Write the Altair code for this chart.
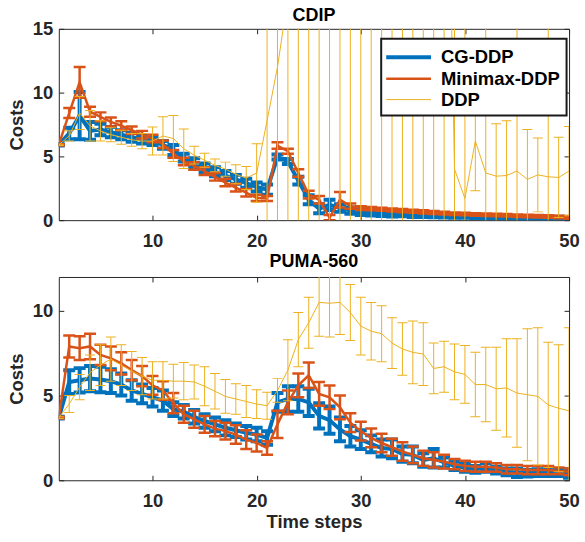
import altair as alt
import pandas as pd

STEPS = list(range(1, 51))
SERIES = ["CG-DDP", "Minimax-DDP", "DDP"]
COLORS = ["#0072BD", "#D95319", "#EDB120"]
LINE_W = [4, 2.5, 1]
CAP_W = [12, 12, 10]
X_TICKS = [10, 20, 30, 40, 50]
CDIP_Y_TICKS = [0, 5, 10, 15]
PUMA_Y_TICKS = [0, 5, 10]

# ---------------- CDIP ----------------
cdip_cg_mean = [5.9, 6.8, 8.2, 7.0, 7.1, 6.9, 6.7, 6.5, 6.3, 6.2,
                5.9, 5.5, 4.9, 4.5, 4.1, 3.8, 3.5, 3.2, 2.9, 2.6,
                2.4, 4.95, 4.6, 3.1, 1.6, 0.9, 1.2, 0.95, 0.75, 0.6,
                0.55, 0.5, 0.45, 0.45, 0.4, 0.38, 0.35, 0.33, 0.3, 0.3,
                0.28, 0.26, 0.25, 0.24, 0.22, 0.2, 0.2, 0.18, 0.16, 0.15]
cdip_cg_err = [0.05, 0.45, 1.85, 0.7, 0.45, 0.4, 0.35, 0.35, 0.3, 0.3,
               0.3, 0.4, 0.3, 0.35, 0.35, 0.35, 0.35, 0.35, 0.35, 0.35,
               0.4, 0.2, 0.2, 0.3, 0.35, 0.35, 0.4, 0.3, 0.25, 0.2,
               0.18, 0.17, 0.16, 0.15, 0.15, 0.14, 0.13, 0.12, 0.12, 0.12,
               0.11, 0.11, 0.1, 0.1, 0.1, 0.1, 0.1, 0.1, 0.1, 0.1]
cdip_mm_mean = [5.9, 8.4, 10.8, 8.5, 8.1, 7.7, 7.4, 7.05, 6.7, 6.4,
                5.95, 5.2, 4.6, 4.25, 3.85, 3.4, 2.95, 2.55, 2.15, 1.75,
                1.7, 5.85, 5.4, 3.7, 2.0, 1.6, 0.2, 1.6, 1.1, 0.95,
                0.9, 0.85, 0.8, 0.75, 0.7, 0.65, 0.6, 0.55, 0.5, 0.48,
                0.45, 0.42, 0.4, 0.38, 0.35, 0.33, 0.3, 0.28, 0.25, 0.22]
cdip_mm_err = [0.05, 0.4, 1.2, 0.4, 0.35, 0.35, 0.35, 0.3, 0.3, 0.3,
               0.3, 0.3, 0.3, 0.3, 0.3, 0.3, 0.3, 0.3, 0.3, 0.25,
               0.2, 0.25, 0.2, 0.3, 0.3, 0.3, 0.2, 0.6, 0.2, 0.15,
               0.13, 0.12, 0.12, 0.12, 0.12, 0.12, 0.11, 0.11, 0.1, 0.1,
               0.1, 0.1, 0.1, 0.1, 0.1, 0.1, 0.1, 0.1, 0.1, 0.1]
cdip_ddp_mean = [5.9, 6.6, 8.4, 7.4, 7.0, 6.7, 6.5, 6.3, 6.2, 6.2,
                 6.6, 6.4, 5.6, 5.1, 4.7, 4.3, 4.0, 3.6, 3.3, 3.7,
                 7.8, 12.0, 17.5, 28, 34, 40, 37, 42, 45, 39,
                 48, 44, 47, 43, 46, 50, 47, 45, 4.0, 1.7,
                 6.2, 3.7, 3.45, 3.5, 3.85, 3.2, 3.55, 3.4, 3.35, 3.85]
cdip_ddp_err = [0.05, 0.4, 1.3, 1.2, 0.8, 0.55, 0.55, 0.5, 0.6, 1.1,
                1.5, 1.8, 1.55, 0.7, 0.55, 0.5, 0.55, 0.75, 0.9, 2.3,
                20, 20, 40, 60, 60, 60, 60, 60, 60, 60,
                60, 60, 60, 60, 60, 60, 60, 60, 30, 30,
                3.9, 15, 4.1, 4.3, 15, 3.9, 2.9, 15, 3.15, 3.5]

# ---------------- PUMA-560 ----------------
puma_cg_mean = [3.7, 5.8, 5.9, 6.0, 5.95, 5.85, 5.65, 5.3, 5.1, 4.9,
                4.7, 4.2, 4.05, 3.75, 3.5, 3.3, 3.1, 2.95, 2.8, 2.7,
                2.5, 4.6, 4.8, 4.8, 4.6, 3.8, 3.55, 3.0, 2.6, 2.4,
                2.15, 1.9, 1.85, 1.55, 1.5, 1.2, 1.3, 1.05, 0.85, 0.75,
                0.65, 0.75, 0.6, 0.5, 0.45, 0.42, 0.45, 0.5, 0.45, 0.4]
puma_cg_err = [0.05, 0.7, 0.72, 0.75, 0.75, 0.7, 0.65, 0.6, 0.55, 0.55,
               0.6, 0.4, 0.4, 0.4, 0.4, 0.4, 0.45, 0.4, 0.4, 0.4,
               0.4, 0.55, 0.75, 0.75, 0.8, 0.75, 0.8, 0.7, 0.6, 0.55,
               0.5, 0.5, 0.55, 0.45, 0.5, 0.4, 0.55, 0.3, 0.25, 0.25,
               0.2, 0.25, 0.2, 0.2, 0.25, 0.2, 0.2, 0.25, 0.2, 0.25]
puma_mm_mean = [3.7, 7.9, 7.8, 7.9, 7.4, 7.2, 6.9, 6.5, 6.15, 5.6,
                5.3, 4.55, 3.9, 3.6, 3.3, 3.05, 2.9, 2.7, 2.4, 2.2,
                1.9, 3.3, 4.6, 5.6, 6.2, 5.1, 4.9, 4.3, 3.4, 2.9,
                2.5, 2.2, 1.95, 1.7, 1.5, 1.3, 1.2, 1.1, 0.95, 0.85,
                0.8, 0.8, 0.75, 0.65, 0.65, 0.6, 0.6, 0.6, 0.55, 0.5]
puma_mm_err = [0.05, 0.65, 0.7, 0.75, 0.6, 0.7, 0.65, 0.6, 0.6, 0.55,
               0.55, 0.6, 0.5, 0.5, 0.5, 0.45, 0.5, 0.55, 0.55, 0.5,
               0.4, 0.8, 0.7, 0.7, 0.75, 0.7, 0.7, 0.7, 0.55, 0.55,
               0.55, 0.55, 0.5, 0.55, 0.5, 0.45, 0.45, 0.4, 0.3, 0.3,
               0.3, 0.3, 0.25, 0.25, 0.25, 0.25, 0.25, 0.25, 0.2, 0.2]
puma_ddp_mean = [3.7, 4.5, 5.5, 6.35, 6.8, 7.15, 6.8, 6.45, 6.15, 5.9,
                 5.9, 5.85, 5.85, 5.8, 5.55, 5.25, 4.95, 4.8, 4.65, 4.5,
                 4.4, 5.3, 6.5, 8.3, 9.3, 10.5, 10.45, 10.5, 9.9, 9.1,
                 8.8, 8.65, 8.1, 7.75, 7.55, 7.45, 6.6, 6.7, 6.4, 6.25,
                 5.65, 5.65, 5.4, 5.45, 5.15, 5.05, 4.95, 4.45, 4.25, 4.1]
puma_ddp_err = [0.05, 0.5, 0.75, 1.05, 1.2, 1.3, 1.2, 1.15, 1.1, 1.1,
                1.1, 1.0, 1.1, 1.0, 1.15, 1.05, 1.0, 0.9, 0.95, 0.85,
                0.8, 0.7, 1.8, 1.6, 1.5, 2.0, 2.0, 1.9, 1.65, 1.7,
                1.7, 1.65, 1.5, 1.55, 1.85, 1.85, 1.5, 1.5, 1.65, 1.7,
                1.9, 2.2, 2.45, 2.9, 3.2, 3.9, 4.05, 3.7, 3.75, 4.9]

FONT = "Liberation Sans"
TEXT = "#262626"


def frame(means, errs, name):
    df = pd.DataFrame({"t": STEPS, "mean": means, "err": errs})
    df["lo"] = df["mean"] - df["err"]
    df["hi"] = df["mean"] + df["err"]
    df["series"] = name
    return df


def panel(title, frames, ymax, yticks, height, show_legend, xtitle, toff):
    xsc = alt.Scale(domain=[1, 50], nice=False, zero=False)
    ysc = alt.Scale(domain=[0, ymax], nice=False, zero=False)
    xax = alt.Axis(values=X_TICKS, tickSize=5, offset=-5, domain=False, grid=False,
                   labelPadding=11, labelFlush=False, title=xtitle, titlePadding=3)
    yax = alt.Axis(values=yticks, tickSize=5, offset=-5, domain=False, grid=False,
                   labelPadding=6, title="Costs", titlePadding=5.5)
    cscale = alt.Scale(domain=SERIES, range=COLORS)
    wscale = alt.Scale(type="ordinal", domain=SERIES, range=LINE_W)
    if show_legend:
        leg = alt.Legend(title=None, orient="none", legendX=323.5, legendY=10,
                         symbolType="M-2.14,0H2.14", symbolSize=441,
                         symbolOffset=9, labelOffset=20)
    else:
        leg = None
    layers = []
    for df, color, lw, cw in zip(frames, COLORS, LINE_W, CAP_W):
        base = alt.Chart(df)
        x = alt.X("t:Q", scale=xsc, axis=xax)
        rule = base.mark_rule(color=color, strokeWidth=lw, clip=True).encode(
            x=x, y=alt.Y("lo:Q", scale=ysc, axis=yax), y2="hi:Q")
        caps = base.transform_fold(["lo", "hi"], as_=["k", "cap"]).mark_tick(
            orient="horizontal", size=cw, thickness=lw, color=color, opacity=1,
            clip=True).encode(x=x, y=alt.Y("cap:Q", scale=ysc, axis=yax))
        line = base.mark_line(clip=True).encode(
            x=x, y=alt.Y("mean:Q", scale=ysc, axis=yax),
            color=alt.Color("series:N", scale=cscale, legend=leg),
            strokeWidth=alt.StrokeWidth("series:N", scale=wscale, legend=leg))
        layers += [rule, caps, line]
    data_layer = alt.layer(*layers)
    box_layer = alt.Chart(frames[0]).mark_point(opacity=0, clip=True).encode(
        x=alt.X("t:Q", scale=xsc,
                axis=alt.Axis(orient="top", values=X_TICKS, labels=False, title=None,
                              tickSize=5, offset=-5, domain=False, grid=False)),
        y=alt.Y("mean:Q", scale=ysc,
                axis=alt.Axis(orient="right", values=yticks, labels=False, title=None,
                              tickSize=5, offset=-5, domain=False, grid=False)))
    return alt.layer(data_layer, box_layer).resolve_axis(
        x="independent", y="independent").properties(
        width=512, height=height,
        title=alt.TitleParams(title, offset=toff, baseline="bottom", anchor="middle",
                              font=FONT, fontSize=18, fontWeight="bold", color="#000000"))


cdip = [frame(cdip_cg_mean, cdip_cg_err, SERIES[0]),
        frame(cdip_mm_mean, cdip_mm_err, SERIES[1]),
        frame(cdip_ddp_mean, cdip_ddp_err, SERIES[2])]
puma = [frame(puma_cg_mean, puma_cg_err, SERIES[0]),
        frame(puma_mm_mean, puma_mm_err, SERIES[1]),
        frame(puma_ddp_mean, puma_ddp_err, SERIES[2])]

top = panel("CDIP", cdip, 15, CDIP_Y_TICKS, 192, True, None, -23)
bottom = panel("PUMA-560", puma, 12, PUMA_Y_TICKS, 204, False, "Time steps", -12)

chart = alt.vconcat(top, bottom, spacing=2).resolve_scale(
    color="independent", strokeWidth="independent", x="independent", y="independent"
).properties(
    padding={"left": 7, "top": 5, "right": 5, "bottom": 5}
).configure_axis(
    labelFont=FONT, labelFontSize=18.5, labelFontWeight="bold", labelColor=TEXT,
    titleFont=FONT, titleFontSize=18.5, titleFontWeight="bold", titleColor=TEXT,
    tickColor=TEXT, tickWidth=1
).configure_view(
    stroke=TEXT, strokeWidth=1
).configure_legend(
    labelFont=FONT, labelFontSize=18.5, labelFontWeight="bold", labelColor="#000000",
    fillColor="#ffffff", strokeColor="#1a1a1a", strokeWidth=2, padding=6,
    rowPadding=0
)

chart.save("out.html", embed_options={"renderer": "svg", "actions": False})
